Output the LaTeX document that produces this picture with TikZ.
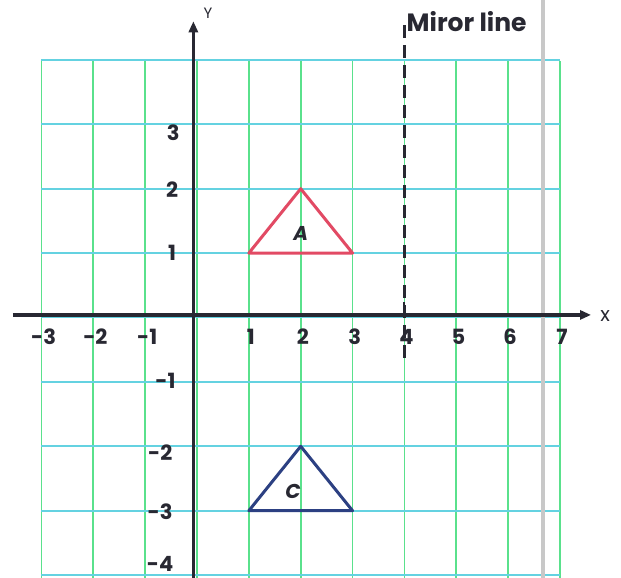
\documentclass[tikz,border=0pt]{standalone}
\usepackage{fontspec}
\setmainfont{Poppins}
\usetikzlibrary{arrows.meta}
\definecolor{gridv}{RGB}{90,225,140}
\definecolor{gridh}{RGB}{100,210,225}
\definecolor{triA}{RGB}{226,74,100}
\definecolor{triC}{RGB}{44,64,130}
\definecolor{axisc}{RGB}{40,40,50}
\definecolor{edgegray}{RGB}{200,200,200}
\tikzset{
  vgrid/.style={draw=gridv, line width=1.8pt},
  hgrid/.style={draw=gridh, line width=1.8pt},
  axisline/.style={draw=axisc, line width=3.5pt, -{Triangle[length=11pt,width=9pt]}},
  ticklab/.style={font=\fontsize{21}{21}\selectfont\bfseries, text=axisc, inner sep=0pt},
  trilineA/.style={draw=triA, line width=3pt, line join=round},
  trilineC/.style={draw=triC, line width=3pt, line join=round},
  mirror/.style={draw=axisc, line width=3pt, dash pattern=on 13pt off 7pt},
}
\begin{document}
\begin{tikzpicture}[x=51.85pt,y=64.4pt]
\useasboundingbox (-3.7994,-4.045) rectangle (8.1774,4.9301);
\fill[white] (-3.7994,-4.045) rectangle (8.1774,4.9301);
% grid
\foreach \u in {-3,...,7} \draw[vgrid] (\u,-4.1) -- (\u,3.99);
\foreach \v in {-4,...,4} \draw[hgrid] (-3,\v) -- (7,\v);
% page edge shadow
\draw[edgegray, line width=4pt] (6.673,-4.1) -- (6.673,5);
% axes
\draw[axisline] (-3.55,0.04) -- (7.6,0.04);
\draw[axisline] (-0.07,-4.1) -- (-0.07,4.6);
\node[ticklab, font=\fontsize{15}{15}\selectfont] (ylab) at (0.21,4.72) {Y};
\node[ticklab, font=\fontsize{20}{20}\selectfont] (xlab) at (7.87,0.03) {x};
% x tick labels
\foreach \u/\t in {-3/-3,-2/-2,-1/-1,1/1,2/2,3/3,4/4,5/5,6/6,7/7}
  \node[ticklab] (xt\u) at (\u+0.04,-0.30) {\t};
% y tick labels
\node[ticklab] (yt3) at (-0.46,2.87) {3};
\node[ticklab] (yt2) at (-0.48,1.98) {2};
\node[ticklab] (yt1) at (-0.48,1.0) {1};
\node[ticklab] (ytm1) at (-0.61,-0.99) {-1};
\node[ticklab] (ytm2) at (-0.71,-2.1) {-2};
\node[ticklab] (ytm3) at (-0.71,-3.02) {-3};
\node[ticklab] (ytm4) at (-0.71,-3.82) {-4};
% mirror line
\draw[mirror] (4,4.54) -- (4,-0.66);
\draw[axisc, line width=2pt] (4,0.04) -- (4,0.24);
\node[ticklab, anchor=west, font=\fontsize{25}{25}\selectfont\bfseries] (mirrorlab) at (4.04,4.6) {Miror line};
% triangle A
\coordinate (a1) at (1,1);
\coordinate (a2) at (2,2);
\coordinate (a3) at (3,1);
\draw[trilineA] (a1) -- (a2) -- (a3) -- cycle;
\node[ticklab, font=\fontsize{20}{20}\selectfont\bfseries\itshape] (labA) at (2,1.3) {A};
% triangle C
\coordinate (c1) at (1,-3);
\coordinate (c2) at (2,-2);
\coordinate (c3) at (3,-3);
\draw[trilineC] (c1) -- (c2) -- (c3) -- cycle;
\node[ticklab, font=\fontsize{20}{20}\selectfont\bfseries\itshape] (labC) at (1.85,-2.7) {C};
\end{tikzpicture}
\end{document}
